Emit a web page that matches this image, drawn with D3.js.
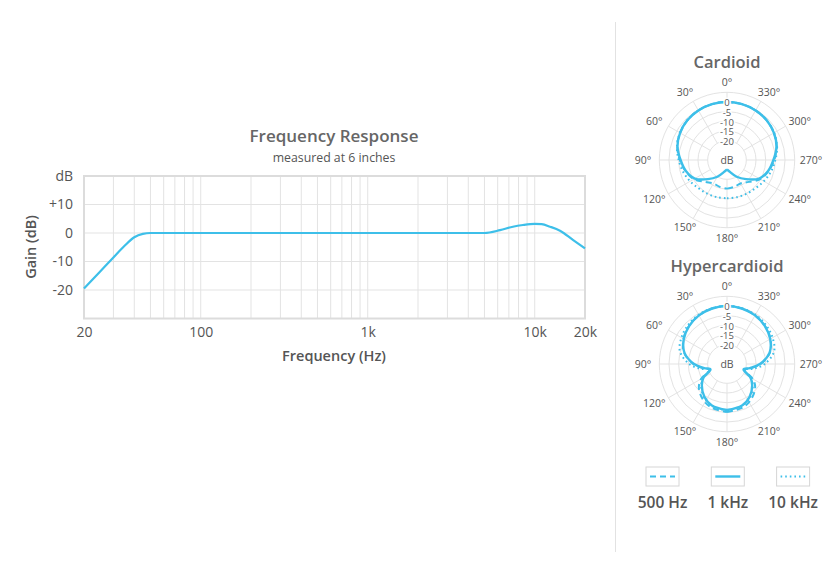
<!DOCTYPE html>
<html>
<head>
<meta charset="utf-8">
<script src="https://cdn.jsdelivr.net/npm/d3@7"></script>
<style>
  body { margin: 0; background: #fff; }
  svg { display: block; font-family: "Open Sans", sans-serif; }
</style>
</head>
<body>
<svg id="chart" width="840" height="574"></svg>
<script>
// frequency response (Hz -> dB)
const freqs = [20, 25, 30, 35, 40, 45, 50, 100, 1000, 5000, 6200, 7400, 8500, 10000, 11000, 12350, 14170, 17000, 20000];
const gains = [-19.5, -13.5, -8.6, -4.5, -1.5, -0.3, 0, 0, 0, 0, 1.0, 2.2, 2.8, 3.2, 3.1, 2.2, 0.8, -2.5, -5.4];
const xTicks = [20, 100, 1000, 10000, 20000];
const xTickLabels = ["20", "100", "1k", "10k", "20k"];
const yTicks = [20, 10, 0, -10, -20];
const yTickLabels = ["dB", "+10", "0", "-10", "-20"];

// polar patterns, angle measured from front (one side, mirrored)
const cardAngles = [0, 15, 30, 45, 60, 75, 90, 105, 120, 135, 150, 165, 180];
const card500 = [0, -0.1, -0.4, -1.0, -2.0, -3.4, -5.6, -7.8, -10.2, -14, -16, -15.6, -15.2];
const card1k = [0, -0.1, -0.4, -1.0, -2.0, -3.5, -6.0, -8.0, -10.8, -16, -20, -23.5, -25.2];
const card10k = [0, -0.1, -0.4, -1.0, -1.9, -3.2, -5.0, -6.5, -8.0, -9.3, -9.8, -10.1, -10.2];

const hyperAngles = [0, 15, 30, 45, 60, 75, 90, 100, 108, 120, 130, 145, 160, 180];
const hyper500 = [0, -0.3, -1.0, -2.2, -4.0, -7.0, -12.5, -17.5, -20.5, -14.5, -11, -8, -6.1, -5.2];
const hyper1k = [0, -0.3, -1.0, -2.3, -4.2, -7.2, -13, -18, -21, -16, -13, -9.5, -7.2, -6.2];
const hyper10k = [0, -0.2, -0.6, -1.5, -2.8, -4.8, -10.5, -16, -20.5, -16, -12.6, -9.2, -7.0, -6.0];

const ringLevels = [0, -5, -10, -15, -20];
const spokeAngles = d3.range(0, 360, 30);
const legendLabels = ["500 Hz", "1 kHz", "10 kHz"];

const blue = "#3dbfe9";
const grid = "#e3e3e3";
const textCol = "#555";

const svg = d3.select("#chart");

// ---------- frequency response ----------
const x = d3.scaleLog().domain([20, 20000]).range([84, 585]);
const y = d3.scaleLinear().domain([-30, 20]).range([318.5, 176]);

const fr = svg.append("g");

// vertical grid: every 1..9 step in each decade
const vLines = [];
[10, 100, 1000, 10000].forEach((dec) => {
  for (let i = 1; i <= 9; i++) {
    const f = dec * i;
    if (f > 20 && f < 20000) vLines.push(f);
  }
});
fr.append("g")
  .selectAll("line")
  .data(vLines)
  .join("line")
  .attr("x1", (d) => x(d))
  .attr("x2", (d) => x(d))
  .attr("y1", y(20))
  .attr("y2", y(-30))
  .attr("stroke", grid)
  .attr("stroke-width", 1);

fr.append("g")
  .selectAll("line")
  .data([10, 0, -10, -20])
  .join("line")
  .attr("x1", x(20))
  .attr("x2", x(20000))
  .attr("y1", (d) => y(d))
  .attr("y2", (d) => y(d))
  .attr("stroke", grid)
  .attr("stroke-width", 1);

fr.append("rect")
  .attr("x", x(20))
  .attr("y", y(20))
  .attr("width", x(20000) - x(20))
  .attr("height", y(-30) - y(20))
  .attr("fill", "none")
  .attr("stroke", "#dcdcdc")
  .attr("stroke-width", 2);

const xAxis = fr
  .append("g")
  .attr("transform", `translate(0,${y(-30)})`)
  .call(
    d3
      .axisBottom(x)
      .tickValues(xTicks)
      .tickFormat((d, i) => xTickLabels[i])
      .tickSize(0)
      .tickPadding(9)
  );
xAxis.select(".domain").remove();
xAxis
  .selectAll("text")
  .attr("fill", textCol)
  .attr("font-size", 14)
  .attr("font-family", "Open Sans");

const yAxis = fr
  .append("g")
  .attr("transform", `translate(${x(20)},0)`)
  .call(
    d3
      .axisLeft(y)
      .tickValues(yTicks)
      .tickFormat((d, i) => yTickLabels[i])
      .tickSize(0)
      .tickPadding(11)
  );
yAxis.select(".domain").remove();
yAxis
  .selectAll("text")
  .attr("fill", textCol)
  .attr("font-size", 14)
  .attr("font-family", "Open Sans");

const frData = freqs.map((f, i) => ({ f, g: gains[i] }));
fr.append("path")
  .datum(frData)
  .attr("fill", "none")
  .attr("stroke", blue)
  .attr("stroke-width", 2.2)
  .attr("d", d3.line().x((d) => x(d.f)).y((d) => y(d.g)).curve(d3.curveMonotoneX));

fr.append("text")
  .attr("x", 334)
  .attr("y", 142)
  .attr("text-anchor", "middle")
  .attr("fill", "#666")
  .attr("font-size", 17)
  .attr("font-weight", 600)
  .text("Frequency Response");

fr.append("text")
  .attr("x", 334)
  .attr("y", 162)
  .attr("text-anchor", "middle")
  .attr("fill", textCol)
  .attr("font-size", 12.3)
  .text("measured at 6 inches");

fr.append("text")
  .attr("x", 334)
  .attr("y", 361)
  .attr("text-anchor", "middle")
  .attr("fill", textCol)
  .attr("font-size", 14.5)
  .attr("font-weight", 600)
  .text("Frequency (Hz)");

fr.append("text")
  .attr("transform", "translate(36,247) rotate(-90)")
  .attr("text-anchor", "middle")
  .attr("fill", textCol)
  .attr("font-size", 14.5)
  .attr("font-weight", 600)
  .text("Gain (dB)");

// separator
svg.append("line")
  .attr("x1", 615.5)
  .attr("x2", 615.5)
  .attr("y1", 22)
  .attr("y2", 552)
  .attr("stroke", "#e2e2e2")
  .attr("stroke-width", 1);

// ---------- polar plots ----------
const r = d3.scaleLinear().domain([-30, 5]).range([0, 67.7]);
const styles = [
  { dash: "6,4", width: 2 },
  { dash: null, width: 2.4 },
  { dash: "1.6,3", width: 2 },
];

function drawPolar(cx, cy, title, angles, series) {
  const g = svg.append("g").attr("transform", `translate(${cx},${cy})`);

  g.append("text")
    .attr("x", 0)
    .attr("y", -92)
    .attr("text-anchor", "middle")
    .attr("fill", "#666")
    .attr("font-size", 16.5)
    .attr("font-weight", 600)
    .text(title);

  g.append("g")
    .selectAll("circle")
    .data([5].concat(ringLevels))
    .join("circle")
    .attr("r", (d) => r(d))
    .attr("fill", "none")
    .attr("stroke", grid)
    .attr("stroke-width", 1);

  g.append("g")
    .selectAll("line")
    .data(spokeAngles)
    .join("line")
    .attr("x1", (d) => -r(-20) * Math.sin((d * Math.PI) / 180))
    .attr("y1", (d) => -r(-20) * Math.cos((d * Math.PI) / 180))
    .attr("x2", (d) => -r(5) * Math.sin((d * Math.PI) / 180))
    .attr("y2", (d) => -r(5) * Math.cos((d * Math.PI) / 180))
    .attr("stroke", grid)
    .attr("stroke-width", 1);

  g.append("g")
    .selectAll("text")
    .data(spokeAngles)
    .join("text")
    .attr("x", (d) => -84 * Math.sin((d * Math.PI) / 180))
    .attr("y", (d) => -78 * Math.cos((d * Math.PI) / 180))
    .attr("dy", "0.35em")
    .attr("text-anchor", "middle")
    .attr("fill", textCol)
    .attr("font-size", 10.5)
    .text((d) => `${d}°`);

  // curves: go from 180 (right side) through 0 to 180 (left side)
  series.forEach((vals, si) => {
    const pts = [];
    for (let i = angles.length - 1; i >= 0; i--) pts.push([angles[i], vals[i]]);
    for (let i = 1; i < angles.length; i++) pts.push([-angles[i], vals[i]]);
    g.append("path")
      .datum(pts)
      .attr("fill", "none")
      .attr("stroke", blue)
      .attr("stroke-width", styles[si].width)
      .attr("stroke-dasharray", styles[si].dash)
      .attr(
        "d",
        d3
          .lineRadial()
          .angle((d) => (d[0] * Math.PI) / 180)
          .radius((d) => r(d[1]))
          .curve(d3.curveCatmullRom)
      );
  });

  g.append("g")
    .selectAll("text")
    .data(ringLevels)
    .join("text")
    .attr("x", 0)
    .attr("y", (d) => -r(d) + 1)
    .attr("dy", "0.35em")
    .attr("text-anchor", "middle")
    .attr("fill", textCol)
    .attr("font-size", 9.5)
    .attr("stroke", "#fff")
    .attr("stroke-width", 3)
    .attr("paint-order", "stroke")
    .text((d) => String(d));

  g.append("text")
    .attr("x", 0)
    .attr("y", 0)
    .attr("dy", "0.35em")
    .attr("text-anchor", "middle")
    .attr("fill", textCol)
    .attr("font-size", 10.5)
    .attr("stroke", "#fff")
    .attr("stroke-width", 3)
    .attr("paint-order", "stroke")
    .text("dB");
}

drawPolar(727, 160, "Cardioid", cardAngles, [card500, card1k, card10k]);
drawPolar(727, 364, "Hypercardioid", hyperAngles, [hyper500, hyper1k, hyper10k]);

// ---------- legend ----------
const leg = svg
  .append("g")
  .selectAll("g")
  .data(legendLabels)
  .join("g")
  .attr("transform", (d, i) => `translate(${646 + i * 65.3},467)`);

leg.append("rect")
  .attr("width", 33)
  .attr("height", 19)
  .attr("fill", "none")
  .attr("stroke", "#d6d6d6")
  .attr("stroke-width", 1);

leg.append("line")
  .attr("x1", 4)
  .attr("x2", 29)
  .attr("y1", 9.5)
  .attr("y2", 9.5)
  .attr("stroke", blue)
  .attr("stroke-width", (d, i) => styles[i].width)
  .attr("stroke-dasharray", (d, i) => styles[i].dash);

leg.append("text")
  .attr("x", 16.5)
  .attr("y", 41)
  .attr("text-anchor", "middle")
  .attr("fill", textCol)
  .attr("font-size", 15.5)
  .attr("font-weight", 600)
  .text((d) => d);
</script>
</body>
</html>
